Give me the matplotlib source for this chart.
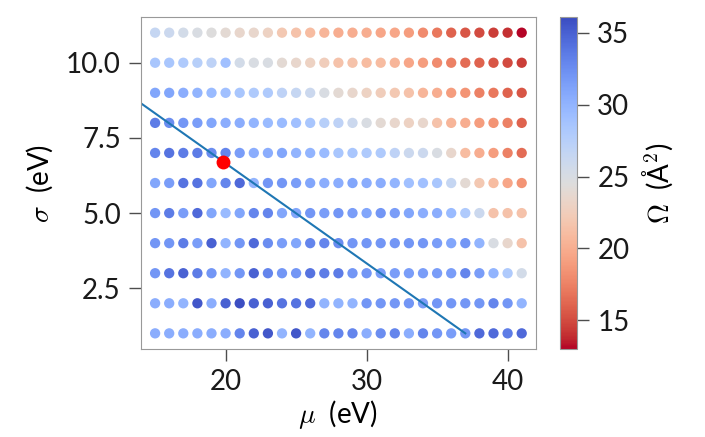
import matplotlib.pyplot as plt
import numpy as np

plt.rcParams['font.family'] = ['Lato', 'DejaVu Sans']
plt.rcParams['mathtext.fontset'] = 'cm'
plt.rcParams['font.size'] = 20

# grid of mu (eV) and sigma (eV)
mu = np.arange(15, 42)
sigma = np.arange(1, 12)

# Omega (A^2), one row per sigma, from sigma=1 (bottom) to sigma=11 (top)
omega_rows = [
    [30.5, 30.5, 30.5, 30.5, 30.5, 30.5, 33, 35, 35.5, 30, 35.5, 30, 33, 33, 33, 30.5, 32.5, 33, 30.5, 33, 32, 31.5, 32, 34.5, 34.5, 33.5, 34.5],
    [30.5, 30.5, 30, 35.5, 30.5, 35, 36, 35, 35, 34, 34, 34.5, 30, 30, 30, 32, 32, 32, 32, 31.5, 32, 32, 32, 32, 33, 32, 30],
    [32, 34, 35, 33.5, 32, 30, 32, 35, 33, 32, 32, 34, 33.5, 33.5, 32, 32, 31.5, 31.5, 31.5, 31.5, 31.5, 31.5, 33, 31.5, 30, 28, 25.5],
    [32, 32, 33.5, 31.5, 35, 30, 32, 34.5, 32.5, 31.5, 31, 33, 33, 32.5, 32, 32, 32, 32, 32, 32, 31.5, 31, 32, 30, 25, 23.5, 21.5],
    [32, 33.5, 31.5, 34.5, 31, 29.5, 31, 33, 33, 31, 31, 32, 31.5, 32, 31.5, 31, 32, 31.5, 31, 30.5, 30.5, 29.5, 28, 26, 21.5, 21.5, 21.5],
    [31, 31.5, 34, 34, 31, 33, 34.5, 30, 32, 32, 31.5, 31, 30.5, 30.5, 31, 30.5, 30.5, 30, 29, 29, 28.5, 26.5, 24, 22, 21, 19.5, 18.5],
    [33, 34, 33.5, 33.5, 32.5, 33, 31.5, 30.5, 30.5, 31, 30, 30, 29.5, 28.5, 28.5, 28, 28, 27, 26, 26, 25, 23.5, 21, 20, 19, 17.5, 16.5],
    [33.5, 32.5, 32, 31.5, 31, 30.5, 30.5, 30, 29.5, 29.5, 29, 28.5, 27.5, 27, 26, 25, 24, 23.5, 23, 23.5, 21.5, 20.5, 20, 19, 18.5, 17.5, 16],
    [31, 31, 30.5, 30, 29.5, 29, 28.5, 28, 28, 27, 26.5, 26, 25, 24, 23.5, 23, 22.5, 22, 21.5, 20.5, 20, 19, 18.5, 17.5, 17, 16, 15.5],
    [28.5, 28.5, 28, 27.5, 27, 29, 25.5, 25, 25, 24, 23.5, 23, 22.5, 21.5, 21.5, 21, 21, 20.5, 19.5, 19, 18, 17.5, 16.5, 16, 15.5, 15, 14.5],
    [26.5, 26, 25.5, 25, 24.5, 24, 23.5, 23.5, 23, 22, 21.5, 21, 20.5, 20, 20, 20, 19.5, 19.5, 19, 18, 17, 16, 15.5, 15, 14.5, 14, 13],
]

# fitted line and the picked point
line_mu = [14, 37]
line_sigma = [8.65, 1.0]
pick_mu = 19.83
pick_sigma = 6.71

M, S = np.meshgrid(mu, sigma)
omega = np.array(omega_rows)

fig = plt.figure(figsize=(7.05, 4.37), dpi=100)
ax = fig.add_axes([0.2, 0.2014, 0.56, 0.7596])
cax = fig.add_axes([0.794, 0.2014, 0.0246, 0.7596])

sc = ax.scatter(M.ravel(), S.ravel(), c=omega.ravel(), cmap='coolwarm_r',
                vmin=13.0, vmax=36.1, s=55, linewidths=0)
ax.plot(line_mu, line_sigma, color='#1f77b4', lw=1.5)
ax.plot(pick_mu, pick_sigma, 'o', color='red', ms=10, mec='none')

ax.set_xlim(14, 42)
ax.set_ylim(0.48, 11.52)
ax.set_xticks([20, 30, 40])
ax.set_yticks([2.5, 5.0, 7.5, 10.0])
ax.set_xlabel(r'$\mu$  (eV)', labelpad=2)
ax.set_ylabel(r'$\sigma$  (eV)', labelpad=8)

for a in (ax, cax):
    for sp in a.spines.values():
        sp.set_color('0.6')
    a.tick_params(length=8.5, width=1, color='0.3', pad=6, labelcolor='0.1')

cb = fig.colorbar(sc, cax=cax)
cb.set_ticks([15, 20, 25, 30, 35])
cb.outline.set_edgecolor('0.6')
cb.set_label(r'$\Omega$  (Å$^2$)', labelpad=8)

fig.savefig('out.png', dpi=100)
